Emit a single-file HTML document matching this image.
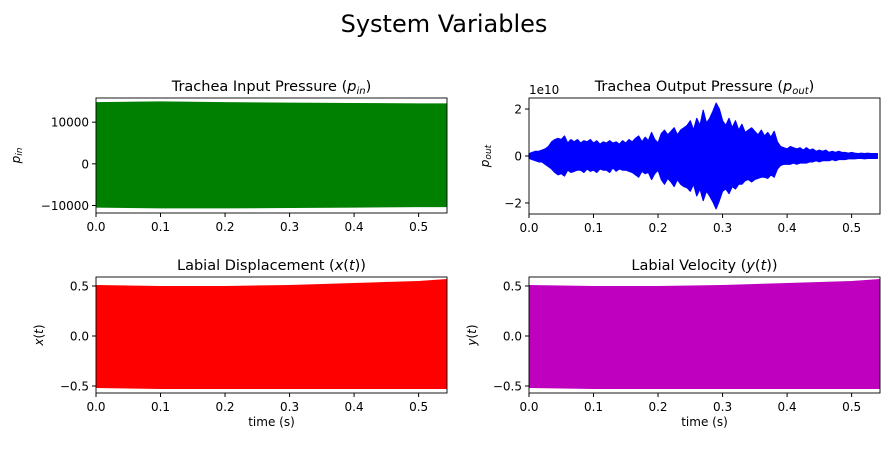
<!DOCTYPE html>
<html><head><meta charset="utf-8"><style>
body{margin:0;background:#fff;}
svg{font-family:"DejaVu Sans","Liberation Sans",sans-serif;}
</style></head><body>
<svg id="c" width="889" height="446" viewBox="0 0 889 446" xmlns="http://www.w3.org/2000/svg">
<text x="444" y="32" font-size="24" text-anchor="middle">System Variables</text>
</svg>
<script>
// shared time axis
const xTicks=[0,0.1,0.2,0.3,0.4,0.5];
const dtEnv=0.005;
// p_out envelope (units 1e10), sampled every 5 ms from 0 to 0.54 s
const poutPos=[0.1,0.15,0.2,0.2,0.25,0.3,0.4,0.6,0.7,0.75,
0.7,0.85,0.55,0.7,0.6,0.7,0.55,0.65,0.6,0.7,
0.55,0.65,0.5,0.6,0.55,0.65,0.55,0.6,0.5,0.65,
0.55,0.7,0.6,0.75,0.85,0.6,0.8,0.65,1.0,0.7,
0.55,0.95,1.1,0.9,1.05,1.2,0.9,1.1,1.2,1.3,
1.5,1.1,1.6,1.3,1.95,1.4,1.6,1.9,2.25,2.0,
1.5,1.3,1.6,1.2,1.5,1.1,1.35,1.0,1.1,1.2,
1.05,0.9,1.1,0.85,1.0,0.8,1.05,0.6,0.4,0.35,
0.3,0.4,0.35,0.3,0.35,0.25,0.35,0.25,0.3,0.2,
0.25,0.2,0.25,0.15,0.2,0.15,0.2,0.15,0.15,0.12,
0.15,0.12,0.1,0.12,0.1,0.12,0.1,0.1,0.1];
const poutNeg=[-0.1,-0.15,-0.2,-0.25,-0.25,-0.35,-0.45,-0.55,-0.7,-0.8,
-0.75,-0.85,-0.6,-0.7,-0.65,-0.6,-0.6,-0.7,-0.55,-0.65,
-0.6,-0.7,-0.55,-0.6,-0.6,-0.7,-0.5,-0.65,-0.55,-0.6,
-0.6,-0.65,-0.7,-0.8,-0.9,-0.65,-0.75,-0.7,-1.0,-0.75,
-0.6,-1.0,-1.2,-0.95,-1.1,-1.3,-1.0,-1.2,-1.3,-1.35,
-1.5,-1.2,-1.7,-1.4,-1.9,-1.5,-1.7,-1.95,-2.25,-1.9,
-1.5,-1.4,-1.6,-1.3,-1.4,-1.2,-1.2,-1.05,-1.0,-1.1,
-1.0,-0.95,-0.9,-0.9,-0.95,-0.8,-0.9,-0.55,-0.4,-0.35,
-0.35,-0.35,-0.3,-0.35,-0.3,-0.3,-0.3,-0.25,-0.25,-0.2,
-0.25,-0.2,-0.2,-0.2,-0.15,-0.2,-0.15,-0.15,-0.15,-0.12,
-0.12,-0.12,-0.1,-0.1,-0.12,-0.1,-0.1,-0.1,-0.1];
// other envelopes
const tBand=[0,0.1,0.2,0.3,0.4,0.5,0.544];
const pinPos=[14800,15000,14800,14700,14600,14500,14500];
const pinNeg=[-10500,-10700,-10700,-10600,-10500,-10400,-10400];
const xPos=[0.51,0.50,0.50,0.51,0.53,0.55,0.57];
const xNeg=[-0.52,-0.53,-0.53,-0.53,-0.53,-0.53,-0.53];
const yPos=[0.51,0.50,0.50,0.51,0.53,0.55,0.57];
const yNeg=[-0.52,-0.53,-0.53,-0.53,-0.53,-0.53,-0.53];
const tEnv=poutPos.map((_,i)=>i*dtEnv);

const svg=document.getElementById('c');
const NS='http://www.w3.org/2000/svg';
function mk(tag,attrs,parent){const e=document.createElementNS(NS,tag);for(const k in attrs)e.setAttribute(k,attrs[k]);(parent||svg).appendChild(e);return e;}

function panel(o){
  const g=mk('g',{});
  
  
  const sx=v=>o.x0+(v-0)/(0.544)*(o.x1-o.x0);
  const sy=v=>o.y1-(v-o.ymin)/(o.ymax-o.ymin)*(o.y1-o.y0);
  let pts=o.t.map((t,i)=>sx(t)+','+sy(o.pos[i]));
  for(let i=o.t.length-1;i>=0;i--)pts.push(sx(o.t[i])+','+sy(o.neg[i]));
  const p=mk('polygon',{points:pts.join(' '),fill:o.color,stroke:o.color,'stroke-width':o.sw||0,'stroke-linejoin':'round'},g);
  
  
  mk('rect',{x:o.x0,y:o.y0,width:o.x1-o.x0,height:o.y1-o.y0,fill:'none',stroke:'#000','stroke-width':0.9},g);
  xTicks.forEach(v=>{const x=sx(v);mk('line',{x1:x,x2:x,y1:o.y1,y2:o.y1+4,stroke:'#000'},g);
    const t=mk('text',{x:x,y:o.y1+18,'font-size':12,'text-anchor':'middle'},g);t.textContent=v.toFixed(1);
    });
  o.yTicks.forEach((v,i)=>{const y=sy(v);mk('line',{x1:o.x0-4,x2:o.x0,y1:y,y2:y,stroke:'#000'},g);
    const t=mk('text',{x:o.x0-7,y:y+4.5,'font-size':12,'text-anchor':'end'},g);t.textContent=o.yLabels[i];
    });
  const tt=mk('text',{x:(o.x0+o.x1)/2,y:o.y0-7,'font-size':14.5,'text-anchor':'middle'},g);tt.innerHTML=o.title;
  
  const yl=mk('text',{transform:`translate(${o.ylx},${(o.y0+o.y1)/2}) rotate(-90)`,'font-size':12,'text-anchor':'middle'},g);yl.innerHTML=o.ylabel;
  
  if(o.xlabel){const xl=mk('text',{x:(o.x0+o.x1)/2,y:o.y1+33,'font-size':12,'text-anchor':'middle'},g);xl.textContent=o.xlabel;
    }
  if(o.offset){const ot=mk('text',{x:o.x0,y:o.y0-4,'font-size':12},g);ot.textContent=o.offset;
    }
}
panel({name:'trachea-input-panel',x0:96,x1:447,y0:98,y1:213,ymin:-11800,ymax:15800,t:tBand,pos:pinPos,neg:pinNeg,color:'#008000',
  yTicks:[-10000,0,10000],yLabels:['\u221210000','0','10000'],title:'Trachea Input Pressure (<tspan font-style="italic">p</tspan><tspan font-style="italic" font-size="10" dy="3">in</tspan><tspan dy="-3">)</tspan>',
  ylx:20,ylabel:'<tspan font-style="italic">p</tspan><tspan font-style="italic" font-size="9" dy="2">in</tspan>'});
panel({name:'trachea-output-panel',x0:529,x1:880,y0:98,y1:214,ymin:-2.47,ymax:2.47,t:tEnv,pos:poutPos,neg:poutNeg,color:'#0000ff',sw:1.2,
  yTicks:[-2,0,2],yLabels:['\u22122','0','2'],offset:'1e10',title:'Trachea Output Pressure (<tspan font-style="italic">p</tspan><tspan font-style="italic" font-size="10" dy="3">out</tspan><tspan dy="-3">)</tspan>',
  ylx:489,ylabel:'<tspan font-style="italic">p</tspan><tspan font-style="italic" font-size="9" dy="2">out</tspan>'});
panel({name:'labial-displacement-panel',x0:96,x1:447,y0:277,y1:393,ymin:-0.57,ymax:0.59,t:tBand,pos:xPos,neg:xNeg,color:'#ff0000',
  yTicks:[-0.5,0,0.5],yLabels:['\u22120.5','0.0','0.5'],title:'Labial Displacement (<tspan font-style="italic">x</tspan>(<tspan font-style="italic">t</tspan>))',
  ylx:43,ylabel:'<tspan font-style="italic">x</tspan>(<tspan font-style="italic">t</tspan>)',xlabel:'time (s)'});
panel({name:'labial-velocity-panel',x0:529,x1:880,y0:277,y1:393,ymin:-0.57,ymax:0.59,t:tBand,pos:yPos,neg:yNeg,color:'#bf00bf',
  yTicks:[-0.5,0,0.5],yLabels:['\u22120.5','0.0','0.5'],title:'Labial Velocity (<tspan font-style="italic">y</tspan>(<tspan font-style="italic">t</tspan>))',
  ylx:476,ylabel:'<tspan font-style="italic">y</tspan>(<tspan font-style="italic">t</tspan>)',xlabel:'time (s)'});
</script>
</body></html>
